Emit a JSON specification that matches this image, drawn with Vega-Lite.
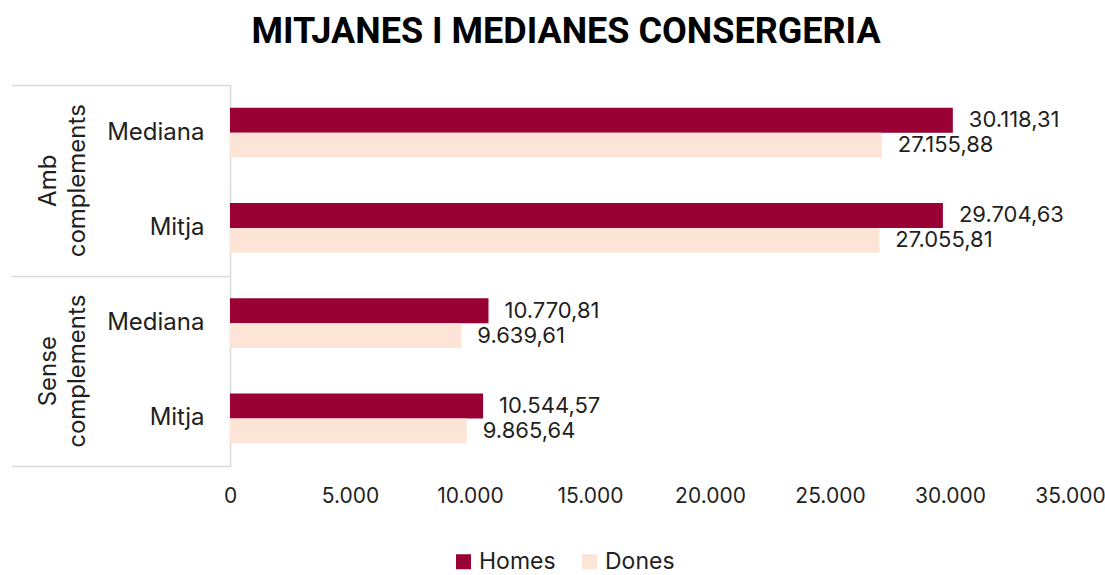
{
  "$schema": "https://vega.github.io/schema/vega-lite/v6.json",
  "width": 840,
  "height": 381,
  "padding": {"left": 10, "top": 14, "right": 0, "bottom": 0},
  "background": "white",
  "title": {
    "text": "MITJANES I MEDIANES CONSERGERIA",
    "font": "Roboto",
    "fontWeight": "bold",
    "fontSize": 36,
    "color": "#000000",
    "anchor": "middle",
    "frame": "group",
    "dx": -84,
    "offset": 33
  },
  "data": {
    "values": [
      {"fila": "Amb complements|Mediana", "grup": "Amb complements", "sexe": "Homes", "valor": 30118.31},
      {"fila": "Amb complements|Mediana", "grup": "Amb complements", "sexe": "Dones", "valor": 27155.88},
      {"fila": "Amb complements|Mitja", "grup": "Amb complements", "sexe": "Homes", "valor": 29704.63},
      {"fila": "Amb complements|Mitja", "grup": "Amb complements", "sexe": "Dones", "valor": 27055.81},
      {"fila": "Sense complements|Mediana", "grup": "Sense complements", "sexe": "Homes", "valor": 10770.81},
      {"fila": "Sense complements|Mediana", "grup": "Sense complements", "sexe": "Dones", "valor": 9639.61},
      {"fila": "Sense complements|Mitja", "grup": "Sense complements", "sexe": "Homes", "valor": 10544.57},
      {"fila": "Sense complements|Mitja", "grup": "Sense complements", "sexe": "Dones", "valor": 9865.64}
    ]
  },
  "encoding": {
    "x": {
      "field": "valor",
      "type": "quantitative",
      "scale": {"domain": [0, 35000], "nice": false},
      "axis": {
        "title": null,
        "values": [0, 5000, 10000, 15000, 20000, 25000, 30000, 35000],
        "format": ",.0f",
        "domain": false,
        "ticks": false,
        "grid": false,
        "labelFont": "Inter",
        "labelFontSize": 21,
        "labelColor": "#1f1f1f",
        "labelPadding": 19,
        "labelFlush": false
      }
    }
  },
  "layer": [
    {
      "mark": {"type": "bar", "opacity": 0},
      "encoding": {
        "y": {
          "field": "grup",
          "type": "nominal",
          "sort": ["Amb complements", "Sense complements"],
          "scale": {"paddingInner": 0, "paddingOuter": 0},
          "axis": {
            "orient": "left",
            "title": null,
            "domain": true,
            "domainColor": "#d9d9d9",
            "domainWidth": 1.5,
            "ticks": true,
            "tickBand": "extent",
            "tickSize": 219,
            "tickColor": "#d9d9d9",
            "tickWidth": 1.5,
            "labelAngle": -90,
            "labelAlign": "center",
            "labelBaseline": "middle",
            "labelPadding": -37,
            "labelExpr": "split(datum.label, ' ')",
            "labelLineHeight": 29,
            "labelFont": "Inter",
            "labelFontSize": 24,
            "labelColor": "#1f1f1f"
          }
        }
      }
    },
    {
      "encoding": {
        "y": {
          "field": "fila",
          "type": "nominal",
          "sort": ["Amb complements|Mediana", "Amb complements|Mitja", "Sense complements|Mediana", "Sense complements|Mitja"],
          "scale": {"paddingInner": 0.48, "paddingOuter": 0.24},
          "axis": {
            "orient": "left",
            "title": null,
            "domain": false,
            "ticks": false,
            "labelExpr": "split(datum.label, '|')[1]",
            "labelPadding": 26,
            "labelFont": "Inter",
            "labelFontSize": 24,
            "labelColor": "#1f1f1f"
          }
        },
        "yOffset": {
          "field": "sexe",
          "type": "nominal",
          "sort": ["Homes", "Dones"],
          "scale": {"paddingInner": 0, "paddingOuter": 0}
        }
      },
      "layer": [
        {
          "mark": {"type": "bar"},
          "encoding": {
            "color": {
              "field": "sexe",
              "type": "nominal",
              "sort": ["Homes", "Dones"],
              "scale": {"domain": ["Homes", "Dones"], "range": ["#990033", "#FCE4D6"]},
              "legend": {
                "title": null,
                "orient": "none",
                "direction": "horizontal",
                "legendX": 222,
                "legendY": 465,
                "symbolType": "square",
                "symbolSize": 225,
                "symbolStrokeWidth": 0,
                "symbolOpacity": 1,
                "labelFont": "Inter",
                "labelFontSize": 23,
                "labelColor": "#1f1f1f",
                "labelOffset": 4,
                "columnPadding": 22,
                "padding": 0
              }
            }
          }
        },
        {
          "mark": {"type": "text", "align": "left", "baseline": "middle", "dx": 16, "font": "Inter", "fontSize": 22, "color": "#1f1f1f"},
          "encoding": {
            "text": {"field": "valor", "type": "quantitative", "format": ",.2f"}
          }
        }
      ]
    }
  ],
  "resolve": {"scale": {"y": "independent"}, "axis": {"y": "independent"}},
  "config": {
    "view": {"stroke": null},
    "locale": {
      "number": {"decimal": ",", "thousands": ".", "grouping": [3], "currency": ["", " €"]}
    }
  }
}
